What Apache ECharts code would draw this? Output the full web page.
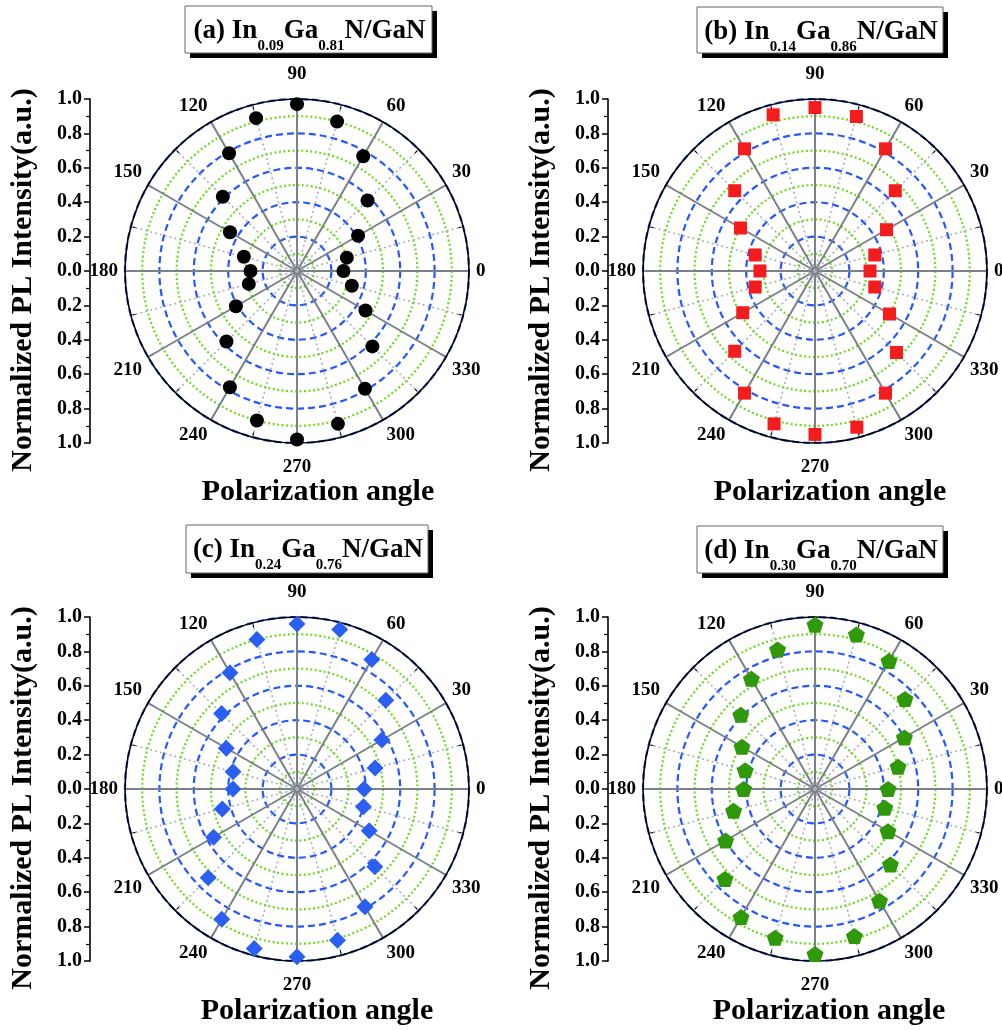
<!DOCTYPE html>
<html>
<head>
<meta charset="utf-8">
<script src="https://cdn.jsdelivr.net/npm/echarts@6/dist/echarts.min.js"></script>
<style>html,body{margin:0;padding:0;background:#fff;}#chart{width:1002px;height:1030px;}</style>
</head>
<body>
<div id="chart"></div>
<script>
// ---- data ----
const angles = [0,15,30,45,60,75,90,105,120,135,150,165,180,195,210,225,240,255,270,285,300,315,330,345];
const intensityA = [0.27,0.30,0.41,0.58,0.77,0.90,0.97,0.92,0.79,0.61,0.45,0.32,0.27,0.29,0.41,0.58,0.78,0.90,0.98,0.92,0.79,0.62,0.46,0.33];
const intensityB = [0.32,0.36,0.48,0.66,0.82,0.93,0.95,0.94,0.82,0.66,0.50,0.36,0.32,0.36,0.485,0.66,0.82,0.92,0.95,0.94,0.82,0.67,0.50,0.36];
const intensityC = [0.39,0.47,0.57,0.73,0.87,0.96,0.96,0.90,0.78,0.62,0.475,0.385,0.372,0.45,0.56,0.73,0.875,0.96,0.975,0.91,0.79,0.64,0.485,0.40];
const intensityD = [0.425,0.50,0.60,0.74,0.86,0.93,0.955,0.84,0.74,0.61,0.49,0.42,0.415,0.49,0.60,0.74,0.86,0.895,0.96,0.885,0.75,0.62,0.49,0.42];
const panelLetters = ['(a)','(b)','(c)','(d)'];
const inFractions = ['0.09','0.14','0.24','0.30'];
const gaFractions = ['0.81','0.86','0.76','0.70'];
const yAxisName = 'Normalized PL Intensity(a.u.)';
const angleAxisName = 'Polarization angle';

// ---- styles / layout ----
const FONT = 'Liberation Serif';
const seriesData = [intensityA, intensityB, intensityC, intensityD];
const symbols = ['circle','rect','diamond','path://M50,0 L97.55,34.55 L79.39,90.45 L20.61,90.45 L2.45,34.55 Z'];
const symbolSizes = [14, 13, 17, [17,16]];
const colors = ['#000000','#f41c1c','#2b5ff2','#2f990a'];
const layouts = [
  {cx:297, cy:271, axisX:90,  top:99,  boxX:185, boxY:6,   boxW:247, boxH:47, labX:318, labY:492},
  {cx:815, cy:271, axisX:608, top:99,  boxX:697, boxY:7,   boxW:246, boxH:46, labX:830, labY:492},
  {cx:297, cy:789, axisX:90,  top:617, boxX:186, boxY:525, boxW:242, boxH:48, labX:317, labY:1011},
  {cx:815, cy:789, axisX:608, top:617, boxX:697, boxY:526, boxW:246, boxH:47, labX:829, labY:1011}
];
const R = 172;
const labelFont = {fontFamily:FONT, fontWeight:'bold', fontSize:19, color:'#000'};

const polar = [], angleAxis = [], radiusAxis = [], grid = [], xAxis = [], yAxis = [], series = [], graphic = [];

layouts.forEach((L, i) => {
  polar.push({center:[L.cx, L.cy], radius:R});
  angleAxis.push({
    polarIndex:i, type:'value', min:0, max:360, interval:30, startAngle:0, clockwise:false,
    axisLine:{show:true, lineStyle:{color:'#000', width:1.6}},
    axisTick:{show:true, inside:true, length:6, lineStyle:{color:'#000', width:1.2}},
    minorTick:{show:true, splitNumber:2, length:5, lineStyle:{color:'#000', width:1.2}},
    splitLine:{show:true, lineStyle:{color:'#7a8189', width:2}},
    minorSplitLine:{show:true, lineStyle:{color:'#a9b0b7', type:[2,3], width:1.6}},
    axisLabel:{
      margin:7, align:'center', verticalAlign:'middle',
      formatter: v => v === 360 ? '' : (v === 90 ? '{t|90}' : (v === 270 ? '{b|270}' : '{h|' + v + '}')),
      rich:{
        t:Object.assign({padding:[0,0,8,0]}, labelFont),
        b:Object.assign({padding:[8,0,0,0]}, labelFont),
        h:Object.assign({}, labelFont)
      }
    }
  });
  radiusAxis.push({
    polarIndex:i, type:'value', min:0, max:1, interval:0.2,
    axisLine:{show:false}, axisTick:{show:false}, axisLabel:{show:false},
    splitLine:{show:true, lineStyle:{color:'#2457ff', type:[7,4], width:2.2}},
    minorTick:{show:false, splitNumber:2},
    minorSplitLine:{show:true, lineStyle:{color:'#6cdc1a', type:[2,2.5], width:2.2}}
  });
  grid.push({left:L.axisX, top:L.top, width:20, height:2*R, outerBoundsMode:'none', containLabel:false});
  xAxis.push({gridIndex:i, type:'value', show:false, min:0, max:1});
  yAxis.push({
    gridIndex:i, type:'value', min:-1, max:1, interval:0.2, position:'left',
    axisLine:{show:true, onZero:false, lineStyle:{color:'#000', width:1.6}},
    axisTick:{show:true, length:6, lineStyle:{color:'#000', width:1.5}},
    minorTick:{show:true, splitNumber:2, length:4, lineStyle:{color:'#000', width:1.2}},
    splitLine:{show:false},
    axisLabel:{margin:8, formatter: v => Math.abs(v).toFixed(1), fontFamily:FONT, fontWeight:'bold', fontSize:20, color:'#000'},
    name:yAxisName, nameLocation:'middle', nameGap:52,
    nameTextStyle:{fontFamily:FONT, fontWeight:'bold', fontSize:30, color:'#000', padding:[0,18,0,0]}
  });
  series.push({
    type:'scatter', coordinateSystem:'polar', polarIndex:i,
    symbol:symbols[i], symbolSize:symbolSizes[i],
    itemStyle:{color:colors[i], opacity:1},
    data: angles.map((a, k) => [seriesData[i][k], a]),
    z:5
  });
  // title box with shadow
  graphic.push({type:'rect', shape:{x:L.boxX + 5, y:L.boxY + 5, width:L.boxW, height:L.boxH}, style:{fill:'#000'}, z:10});
  graphic.push({type:'rect', shape:{x:L.boxX, y:L.boxY, width:L.boxW, height:L.boxH}, style:{fill:'#fff', stroke:'#666', lineWidth:1}, z:11});
  graphic.push({
    type:'text', z:12,
    style:{
      x:L.boxX + L.boxW/2 + 1, y:L.boxY + 12,
      text:'{m|' + panelLetters[i] + ' In}{s|' + inFractions[i] + '}{m|Ga}{s|' + gaFractions[i] + '}{m|N/GaN}',
      align:'center', verticalAlign:'top',
      rich:{
        m:{fontFamily:FONT, fontWeight:'bold', fontSize:27, fill:'#000', lineHeight:28, verticalAlign:'top'},
        s:{fontFamily:FONT, fontWeight:'bold', fontSize:15, fill:'#000', lineHeight:36, verticalAlign:'bottom'}
      }
    }
  });
  graphic.push({
    type:'text', z:12,
    style:{x:L.labX, y:L.labY, text:angleAxisName, align:'center', verticalAlign:'middle',
      fontFamily:FONT, fontWeight:'bold', fontSize:30, fill:'#000'}
  });
});

const chart = echarts.init(document.getElementById('chart'), null, {renderer:'canvas'});
chart.setOption({
  backgroundColor:'#fff',
  animation:false,
  polar, angleAxis, radiusAxis, grid, xAxis, yAxis, series, graphic
});
</script>
</body>
</html>
